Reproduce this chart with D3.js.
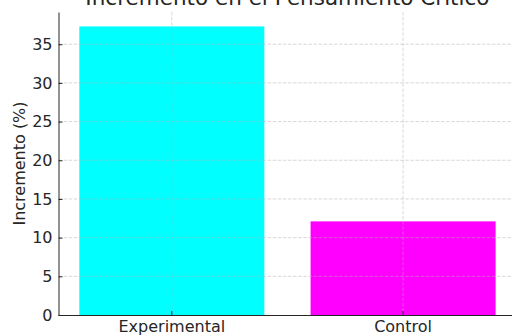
<!DOCTYPE html>
<html>
  <head>
    <meta charset="UTF-8">
    <title>incremento</title>
    <style>
      body { margin: 0; background: #fff; }
      svg text { font-family: "DejaVu Sans", sans-serif; fill: #262626; }
      .grid line { stroke: #b0b0b0; stroke-opacity: 0.55; stroke-dasharray: 3.5,1.6; stroke-width: 0.9px; }
      .axis path, .axis line { stroke: #262626; }
    </style>
    <script src="https://d3js.org/d3.v7.min.js"></script>
  </head>
  <body>
    <div class="graph1"></div>
    <script>
      var groups = ["Experimental", "Control"];
      var values = [37.3, 12.1];
      var colors = ["#00ffff", "#ff00ff"];
      var yTicks = [0, 5, 10, 15, 20, 25, 30, 35];

      var width = 512, height = 336;
      var margin = {top: 12, right: -4.4, bottom: 21, left: 58.5};
      var fs = "16px";

      var svg = d3.select(".graph1").append("svg")
        .attr("width", width)
        .attr("height", height);

      var xScale = d3.scaleBand()
        .domain(groups)
        .range([margin.left, width - margin.right])
        .paddingInner(0.2)
        .paddingOuter(0.09);

      var yScale = d3.scaleLinear()
        .domain([0, d3.max(values) * 1.05])
        .range([height - margin.bottom, margin.top]);

      // bars
      svg.selectAll(".bar")
          .data(groups)
        .enter().append("rect")
          .attr("class", "bar")
          .attr("x", function(d) { return xScale(d); })
          .attr("width", xScale.bandwidth())
          .attr("y", function(d, i) { return yScale(values[i]); })
          .attr("height", function(d, i) { return yScale(0) - yScale(values[i]); })
          .style("fill", function(d, i) { return colors[i]; });

      // grid on top of bars
      var grid = svg.append("g").attr("class", "grid");
      grid.selectAll(".hg")
          .data(yTicks.filter(function(t) { return t > 0; }))
        .enter().append("line")
          .attr("x1", margin.left).attr("x2", width)
          .attr("y1", function(d) { return yScale(d); })
          .attr("y2", function(d) { return yScale(d); });
      grid.selectAll(".vg")
          .data(groups)
        .enter().append("line")
          .attr("x1", function(d) { return xScale(d) + xScale.bandwidth() / 2; })
          .attr("x2", function(d) { return xScale(d) + xScale.bandwidth() / 2; })
          .attr("y1", margin.top).attr("y2", yScale(0));

      // x-axis
      var xAxis = d3.axisBottom(xScale).tickSizeInner(-4).tickSizeOuter(0).tickPadding(5.5);
      var gx = svg.append("g")
          .attr("class", "x axis")
          .attr("transform", "translate(0," + yScale(0) + ")")
          .call(xAxis);
      gx.select(".domain").attr("d", "M" + margin.left + ",0.5H" + width);
      gx.selectAll("text").style("font-size", fs);

      // y-axis
      var yAxis = d3.axisLeft(yScale).tickValues(yTicks).tickSizeInner(-4).tickSizeOuter(0).tickPadding(6);
      var gy = svg.append("g")
          .attr("class", "y axis")
          .attr("transform", "translate(" + margin.left + ",0)")
          .call(yAxis);
      gy.selectAll("text").style("font-size", fs);

      svg.append("text")
          .attr("transform", "translate(25," + ((margin.top + yScale(0)) / 2) + ") rotate(-90)")
          .style("text-anchor", "middle")
          .style("font-size", fs)
          .text("Incremento (%)");

      svg.append("text")
          .attr("x", (margin.left + width - margin.right) / 2)
          .attr("y", 5)
          .style("text-anchor", "middle")
          .style("font-size", "21.5px")
          .text("Incremento en el Pensamiento Crítico");
    </script>
  </body>
</html>
